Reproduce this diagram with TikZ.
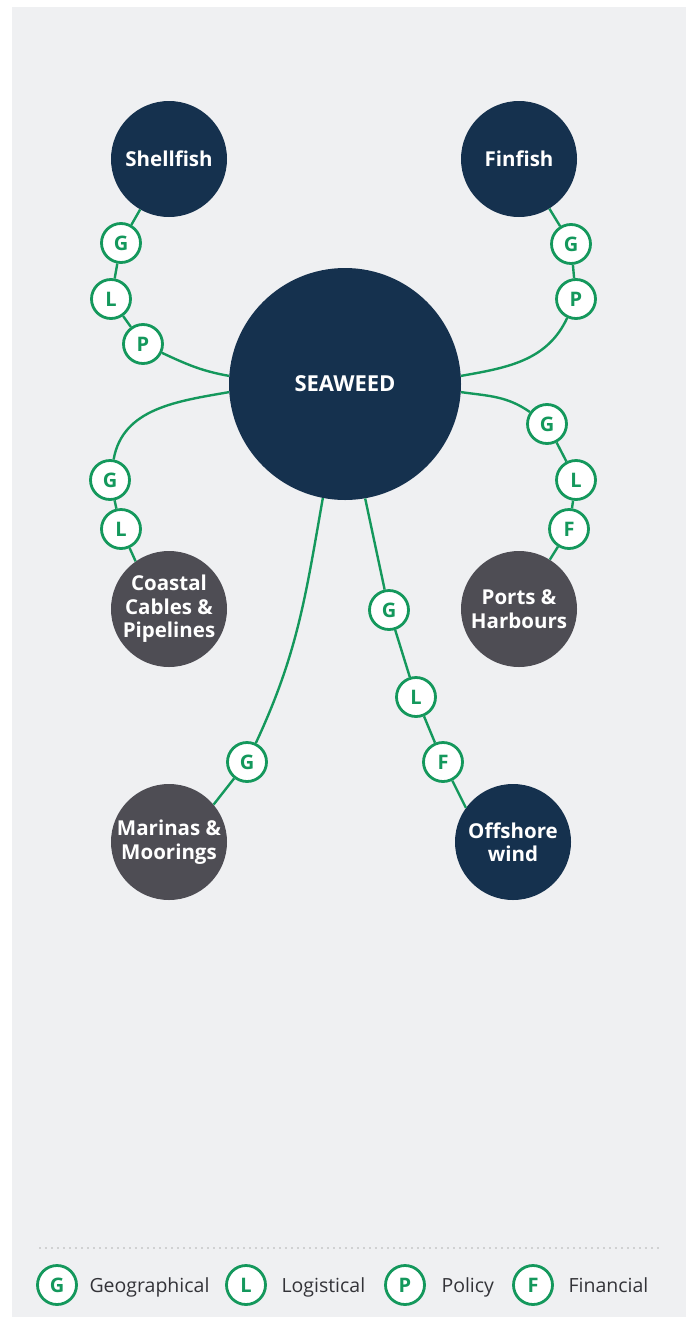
\documentclass[tikz,border=0pt]{standalone}
\usepackage{fontspec}
\setmainfont{Open Sans}
\definecolor{navy}{HTML}{15314E}
\definecolor{slate}{HTML}{4E4D54}
\definecolor{kelp}{HTML}{14985C}
\definecolor{panel}{HTML}{EFF0F2}
\definecolor{ink}{HTML}{333338}
\begin{document}
\begin{tikzpicture}[x=1pt,y=1pt,
    hub/.style={circle,fill=navy,minimum size=232pt,inner sep=0pt,text=white,
      font=\bfseries\fontsize{22}{24}\selectfont},
    sector/.style={circle,fill=navy,minimum size=116pt,inner sep=0pt,text=white,
      align=center,font=\bfseries\fontsize{20.5}{23.5}\selectfont},
    grey sector/.style={sector,fill=slate},
    tag/.style={circle,draw=kelp,fill=white,line width=2.8pt,minimum size=39pt,
      inner sep=0pt,text=kelp,font=\bfseries\fontsize{20}{20}\selectfont},
    link/.style={draw=kelp,line width=2.4pt},
    key/.style={anchor=base west,text=ink,font=\fontsize{19.5}{20}\selectfont}]
      \useasboundingbox (0,0) rectangle (693,-1317);
      \fill[panel] (12,-7) rectangle (686,-1317);
      % hub and sectors
      \node[hub] (seaweed) at (345,-384) {SEAWEED};
      \node[sector] (shellfish) at (169,-159) {Shellfish};
      \node[sector] (finfish) at (519,-159) {Finfish};
      \node[grey sector] (coastal) at (169,-609) {Coastal\\Cables \&\\Pipelines};
      \node[grey sector] (ports) at (519,-609) {Ports \&\\Harbours};
      \node[grey sector] (marinas) at (169,-842) {Marinas \&\\Moorings};
      \node[sector] (offshore) at (513,-842) {Offshore\\wind};
      % tags
      \node[tag] (sG) at (121,-243) {G};
      \node[tag] (sL) at (111,-299) {L};
      \node[tag] (sP) at (143,-344) {P};
      \node[tag] (fG) at (571,-244) {G};
      \node[tag] (fP) at (576,-299) {P};
      \node[tag] (pG) at (547,-424) {G};
      \node[tag] (pL) at (576,-480) {L};
      \node[tag] (pF) at (569,-529) {F};
      \node[tag] (cG) at (110,-480) {G};
      \node[tag] (cL) at (121,-529) {L};
      \node[tag] (oG) at (389,-610) {G};
      \node[tag] (oL) at (416,-697) {L};
      \node[tag] (oF) at (443,-762) {F};
      \node[tag] (mG) at (247,-762) {G};
      \begin{scope}[link]
        \draw (shellfish) -- (sG) -- (sL) -- (sP);
        \draw (sP) to[out=-25,in=170] (seaweed.176);
        \draw (finfish) -- (fG) -- (fP);
        \draw (fP) to[out=245,in=10] (seaweed.4);
        \draw (seaweed.356) to[out=-8,in=145] (pG);
        \draw (pG) -- (pL) -- (pF) -- (ports.58);
        \draw (seaweed.184) to[out=190,in=80] (cG);
        \draw (cG) -- (cL) -- (coastal.125);
        \draw (seaweed.280) -- (oG) -- (oL) -- (oF) -- (offshore.144);
        \draw (seaweed.259) to[out=260,in=65] (mG);
        \draw (mG) -- (marinas.40);
      \end{scope}
      % legend
      \draw[black!30,line width=1.6pt,line cap=round,dash pattern=on 0pt off 6pt]
        (40,-1248) -- (662,-1248);
      \node[tag] (kG) at (57,-1285) {G};
      \node[key] (geo) at (86,-1292) {Geographical};
      \node[tag] (kL) at (246,-1285) {L};
      \node[key] (logi) at (278,-1292) {Logistical};
      \node[tag] (kP) at (405,-1285) {P};
      \node[key] (poli) at (438,-1292) {Policy};
      \node[tag] (kF) at (533,-1285) {F};
      \node[key] (fina) at (565,-1292) {Financial};
\end{tikzpicture}
\end{document}
